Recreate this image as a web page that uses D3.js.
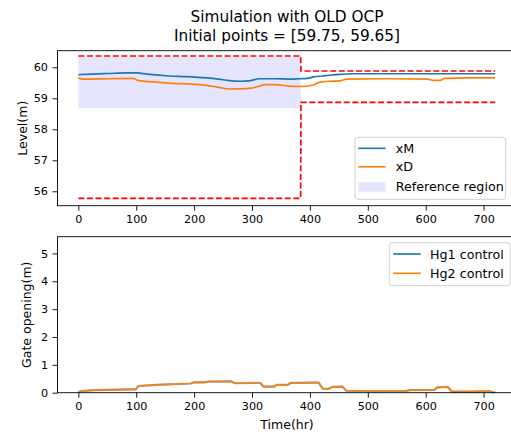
<!DOCTYPE html>
<html>
<head>
<meta charset="utf-8">
<script src="https://cdn.jsdelivr.net/npm/d3@7"></script>
<style>
  html, body { margin: 0; padding: 0; background: #fff; }
  svg { display: block; font-family: "DejaVu Sans", sans-serif; }
</style>
</head>
<body>
<svg id="chart" width="511" height="434"></svg>
<script>
// ---------- data ----------
const titleLines = ["Simulation with OLD OCP", "Initial points = [59.75, 59.65]"];
const xTicks = [0, 100, 200, 300, 400, 500, 600, 700];
const levelTicks = [56, 57, 58, 59, 60];
const gateTicks = [0, 1, 2, 3, 4, 5];

const timeM = [0, 22, 52, 83, 101, 119, 157, 186, 221, 242, 261, 280, 294, 313, 340, 365, 382, 396, 406, 422, 438, 452, 473, 521, 617, 720];
const xM    = [59.76, 59.78, 59.80, 59.82, 59.82, 59.78, 59.72, 59.70, 59.66, 59.62, 59.57, 59.55, 59.56, 59.63, 59.63, 59.62, 59.63, 59.64, 59.69, 59.72, 59.75, 59.77, 59.79, 59.79, 59.79, 59.79];

const timeD = [0, 6, 52, 94, 104, 129, 157, 210, 238, 261, 290, 313, 321, 341, 365, 384, 406, 417, 432, 452, 463, 535, 602, 614, 626, 632, 669, 720];
const xD    = [59.66, 59.62, 59.63, 59.64, 59.57, 59.53, 59.49, 59.44, 59.37, 59.30, 59.31, 59.39, 59.44, 59.44, 59.39, 59.38, 59.43, 59.52, 59.55, 59.56, 59.62, 59.63, 59.62, 59.58, 59.58, 59.64, 59.66, 59.66];

const refTime  = [0, 384, 384.5, 720];
const refUpper = [60.365, 60.365, 59.88, 59.88];
const refLower = [55.77, 55.77, 58.87, 58.87];

const regionTime   = [0, 384];
const regionTop    = [60.34, 60.34];
const regionBottom = [58.68, 58.68];

const gateTime = [0, 6, 27, 93, 99, 104, 135, 155, 194, 200, 217, 225, 264, 270, 309, 314, 320, 338, 343, 361, 367, 408, 415, 422, 432, 439, 456, 463, 494, 566, 572, 615, 620, 638, 645, 679, 710, 715, 720];
const hg1      = [0.02, 0.06, 0.09, 0.12, 0.12, 0.24, 0.28, 0.30, 0.33, 0.37, 0.37, 0.40, 0.41, 0.34, 0.35, 0.35, 0.22, 0.22, 0.28, 0.28, 0.35, 0.36, 0.36, 0.15, 0.14, 0.21, 0.22, 0.07, 0.06, 0.06, 0.09, 0.10, 0.19, 0.21, 0.04, 0.04, 0.06, 0.02, 0.01];
const hg2      = [0.02, 0.06, 0.09, 0.12, 0.12, 0.24, 0.28, 0.30, 0.33, 0.37, 0.37, 0.40, 0.41, 0.34, 0.35, 0.35, 0.22, 0.22, 0.28, 0.28, 0.35, 0.36, 0.36, 0.15, 0.14, 0.21, 0.22, 0.07, 0.06, 0.06, 0.09, 0.10, 0.19, 0.21, 0.04, 0.04, 0.06, 0.02, 0.01];

const seriesLabels = ["xM", "xD", "Reference region"];
const gateLabels = ["Hg1 control", "Hg2 control"];

// ---------- layout ----------
const C_BLUE = "#1f77b4", C_ORANGE = "#ff7f0e", C_RED = "#ff0000";
const svg = d3.select("#chart");
svg.append("rect").attr("width", 511).attr("height", 434).attr("fill", "#fff");

const left = 57.5, right = 516;
const top1 = 50.7, bot1 = 205.7;
const top2 = 236.7, bot2 = 392.7;

const x = d3.scaleLinear().domain([-36, 756]).range([left, right]);
const y1 = d3.scaleLinear().domain([55.535, 60.535]).range([bot1, top1]);
const y2 = d3.scaleLinear().domain([0, 5.6]).range([bot2, top2]);

const zip = (a, b) => a.map((v, i) => [v, b[i]]);

// ---------- title ----------
svg.append("text").attr("x", 287).attr("y", 21.5).attr("text-anchor", "middle")
  .attr("font-size", 15.3).attr("fill", "#000").text(titleLines[0]);
svg.append("text").attr("x", 287).attr("y", 40.5).attr("text-anchor", "middle")
  .attr("font-size", 15.3).attr("fill", "#000").text(titleLines[1]);

function styleAxis(g) {
  g.selectAll("path.domain").remove();
  g.selectAll(".tick line").attr("stroke", "#000").attr("stroke-width", 0.9);
  g.selectAll(".tick text").attr("font-size", 11.2).attr("fill", "#000")
    .attr("font-family", "DejaVu Sans, sans-serif");
}

function frame(top, bot) {
  svg.append("rect").attr("x", left).attr("y", top).attr("width", right - left).attr("height", bot - top)
    .attr("fill", "none").attr("stroke", "#000").attr("stroke-width", 0.9);
}

// ---------- top panel ----------
const p1 = svg.append("g");
const area = d3.area().x(d => x(d[0])).y0(d => y1(d[2])).y1(d => y1(d[1]));
p1.append("path")
  .datum(regionTime.map((t, i) => [t, regionTop[i], regionBottom[i]]))
  .attr("d", area).attr("fill", "blue").attr("fill-opacity", 0.1);

const line1 = d3.line().x(d => x(d[0])).y(d => y1(d[1]));
p1.append("path").datum(zip(refTime, refUpper)).attr("d", line1)
  .attr("fill", "none").attr("stroke", C_RED).attr("stroke-width", 1.65).attr("stroke-dasharray", "6,2.6");
p1.append("path").datum(zip(refTime, refLower)).attr("d", line1)
  .attr("fill", "none").attr("stroke", C_RED).attr("stroke-width", 1.65).attr("stroke-dasharray", "6,2.6");

const smooth1 = d3.line().x(d => x(d[0])).y(d => y1(d[1])).curve(d3.curveMonotoneX);
p1.append("path").datum(zip(timeM, xM)).attr("d", smooth1)
  .attr("fill", "none").attr("stroke", C_BLUE).attr("stroke-width", 1.65);
p1.append("path").datum(zip(timeD, xD)).attr("d", smooth1)
  .attr("fill", "none").attr("stroke", C_ORANGE).attr("stroke-width", 1.65);

frame(top1, bot1);
svg.append("g").attr("transform", `translate(0,${bot1})`)
  .call(d3.axisBottom(x).tickValues(xTicks).tickSize(5).tickPadding(4.5).tickFormat(d3.format("d")))
  .call(styleAxis);
svg.append("g").attr("transform", `translate(${left},0)`)
  .call(d3.axisLeft(y1).tickValues(levelTicks).tickSize(5).tickPadding(4.5).tickFormat(d3.format("d")))
  .call(styleAxis);

svg.append("text").attr("transform", `translate(26.5,${(top1 + bot1) / 2}) rotate(-90)`)
  .attr("text-anchor", "middle").attr("font-size", 12.5).attr("fill", "#000").text("Level(m)");

// legend 1
const lg1 = svg.append("g");
lg1.append("rect").attr("x", 355).attr("y", 137.3).attr("width", 150.7).attr("height", 62)
  .attr("rx", 3).attr("fill", "#fff").attr("fill-opacity", 0.8).attr("stroke", "#cccccc").attr("stroke-width", 0.9);
const lgY1 = [148.3, 166.8, 186.9];
[C_BLUE, C_ORANGE].forEach((c, i) => {
  lg1.append("line").attr("x1", 358.3).attr("x2", 385.5).attr("y1", lgY1[i]).attr("y2", lgY1[i])
    .attr("stroke", c).attr("stroke-width", 1.65);
});
lg1.append("rect").attr("x", 358.3).attr("y", 182.3).attr("width", 27.2).attr("height", 9.4)
  .attr("fill", "blue").attr("fill-opacity", 0.1);
seriesLabels.forEach((s, i) => {
  lg1.append("text").attr("x", 395.7).attr("y", lgY1[i] + 4.5).attr("font-size", 12.7)
    .attr("fill", "#000").text(s);
});

// ---------- bottom panel ----------
const p2 = svg.append("g");
const line2 = d3.line().x(d => x(d[0])).y(d => y2(d[1]));
p2.append("path").datum(zip(gateTime, hg1)).attr("d", line2)
  .attr("fill", "none").attr("stroke", C_BLUE).attr("stroke-width", 2.2).attr("stroke-opacity", 0.6);
p2.append("path").datum(zip(gateTime, hg2)).attr("d", line2)
  .attr("fill", "none").attr("stroke", C_ORANGE).attr("stroke-width", 1.65);

frame(top2, bot2);
svg.append("g").attr("transform", `translate(0,${bot2})`)
  .call(d3.axisBottom(x).tickValues(xTicks).tickSize(5).tickPadding(4.5).tickFormat(d3.format("d")))
  .call(styleAxis);
svg.append("g").attr("transform", `translate(${left},0)`)
  .call(d3.axisLeft(y2).tickValues(gateTicks).tickSize(5).tickPadding(4.5).tickFormat(d3.format("d")))
  .call(styleAxis);

svg.append("text").attr("transform", `translate(30.5,${(top2 + bot2) / 2}) rotate(-90)`)
  .attr("text-anchor", "middle").attr("font-size", 12.5).attr("fill", "#000").text("Gate opening(m)");
svg.append("text").attr("x", 287).attr("y", 429).attr("text-anchor", "middle")
  .attr("font-size", 12.5).attr("fill", "#000").text("Time(hr)");

// legend 2
const lg2 = svg.append("g");
lg2.append("rect").attr("x", 389.3).attr("y", 242.7).attr("width", 121).attr("height", 43)
  .attr("rx", 3).attr("fill", "#fff").attr("fill-opacity", 0.8).attr("stroke", "#cccccc").attr("stroke-width", 0.9);
const lgY2 = [254, 273.3];
[C_BLUE, C_ORANGE].forEach((c, i) => {
  lg2.append("line").attr("x1", 393.3).attr("x2", 420.7).attr("y1", lgY2[i]).attr("y2", lgY2[i])
    .attr("stroke", c).attr("stroke-width", 1.65);
  lg2.append("text").attr("x", 430).attr("y", lgY2[i] + 4.5).attr("font-size", 12.7)
    .attr("fill", "#000").text(gateLabels[i]);
});
</script>
</body>
</html>
